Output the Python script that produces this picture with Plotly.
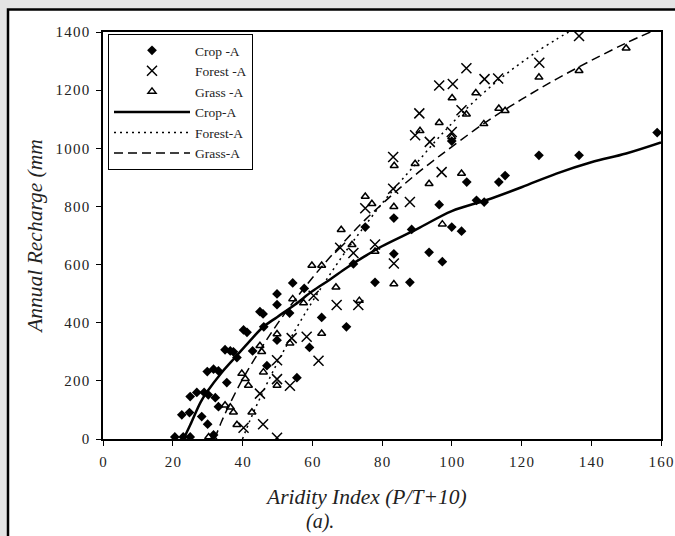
import plotly.graph_objects as go

# ---- observed points ----
crop_x = [20.6, 23.0, 25.0, 22.6, 24.8, 28.3, 30.0, 31.7, 25.0, 26.9, 29.0, 30.2, 32.2, 33.1,
          29.9, 31.7, 33.1, 35.5, 35.0, 36.5, 37.4, 38.4, 40.3, 41.3, 42.9, 45.0, 45.9, 46.1,
          47.0, 49.9, 49.9, 49.9, 53.5, 54.4, 55.6, 57.7, 59.2, 62.7, 69.8, 71.8, 75.2, 78.0,
          83.4, 83.4, 88.0, 88.5, 93.5, 96.4, 97.3, 100.0, 100.0, 102.8, 104.3, 107.1, 109.3,
          113.5, 115.3, 125.0, 136.5, 158.9]
crop_y = [7, 7, 7, 83, 91, 77, 51, 14, 146, 160, 160, 152, 142, 111,
          232, 240, 234, 194, 307, 303, 300, 280, 375, 367, 303, 438, 430, 386,
          252, 499, 462, 340, 433, 537, 211, 518, 315, 418, 386, 602, 729, 539,
          760, 637, 539, 721, 642, 806, 610, 729, 1025, 715, 884, 821, 815,
          884, 906, 976, 976, 1054]

forest_x = [40.3, 45.9, 49.9, 45.0, 49.9, 53.6, 49.9, 54.1, 58.4, 60.4, 61.8, 67.0, 73.2, 68.0,
            71.8, 78.0, 83.4, 75.2, 83.2, 88.0, 83.2, 97.1, 89.5, 93.7, 90.7, 100.0, 96.4, 100.3,
            102.8, 104.2, 109.4, 113.3, 125.1, 136.5]
forest_y = [39, 51, 4, 156, 206, 183, 271, 347, 352, 493, 269, 461, 461, 658,
            640, 669, 604, 794, 861, 815, 970, 918, 1045, 1022, 1120, 1056, 1216, 1221,
            1131, 1275, 1238, 1240, 1294, 1386]

grass_x = [30.3, 31.7, 38.4, 42.7, 37.4, 36.5, 35.0, 39.8, 40.8, 41.7, 46.0, 49.9, 45.0, 45.5,
           49.9, 53.6, 62.7, 54.4, 57.5, 59.9, 62.7, 66.8, 73.5, 68.3, 71.4, 78.0, 75.2, 77.1,
           83.4, 83.4, 83.5, 89.5, 93.5, 97.3, 90.9, 96.4, 102.8, 100.1, 104.2, 109.2, 106.9,
           100.0, 113.5, 115.3, 125.0, 136.5, 150.0]
grass_y = [7, 2, 49, 92, 92, 109, 116, 225, 207, 184, 230, 184, 321, 300,
           361, 329, 363, 482, 468, 597, 597, 522, 476, 720, 668, 645, 834, 809,
           799, 533, 940, 947, 878, 739, 1060, 1088, 913, 1173, 1117, 1084, 1190,
           1039, 1137, 1129, 1244, 1267, 1344]

# ---- fitted curves ----
crop_fit_x = [23.1, 25, 28, 30, 34, 38, 42, 46, 50, 55, 60, 65, 70, 75, 80, 90, 100, 110, 120,
              130, 140, 150, 160]
crop_fit_y = [0, 48, 127, 165, 228, 282, 336, 386, 420, 462, 508, 548, 590, 628, 663, 722, 784,
              822, 866, 913, 952, 982, 1020]

forest_fit_x = [40, 42, 45, 50, 55, 60, 65, 70, 75, 80, 85, 90, 95, 100, 105, 110, 115, 120,
                125, 130, 133.5]
forest_fit_y = [0, 60, 140, 262, 372, 472, 565, 652, 732, 810, 882, 950, 1020, 1085, 1145, 1200,
                1250, 1295, 1337, 1375, 1400]

grass_fit_x = [32, 34, 36, 40, 45, 50, 55, 60, 65, 70, 75, 80, 85, 90, 95, 100, 110, 120, 130,
               140, 150, 157]
grass_fit_y = [0, 60, 112, 205, 305, 396, 478, 554, 624, 690, 752, 808, 862, 913, 960, 1005,
               1092, 1168, 1238, 1302, 1362, 1400]

x_ticks = [0, 20, 40, 60, 80, 100, 120, 140, 160]
y_ticks = [0, 200, 400, 600, 800, 1000, 1200, 1400]

x_title = "Aridity Index (P/T+10)"
panel_label = "(a)."
y_title = "Annual Recharge (mm"

FONT = "Liberation Serif, Times New Roman, serif"
HS = "\u200a"  # hair space: mimics the wide tracking of the original tick labels


def spaced(v):
    return HS.join(str(v))


fig = go.Figure()
fig.add_trace(go.Scatter(x=crop_x, y=crop_y, mode="markers", name="Crop -A",
                         marker=dict(symbol="diamond", size=7.5, color="black")))
fig.add_trace(go.Scatter(x=forest_x, y=forest_y, mode="markers", name="Forest -A",
                         marker=dict(symbol="x-thin-open", size=10, color="black",
                                     line=dict(width=1.5, color="black"))))
fig.add_trace(go.Scatter(x=grass_x, y=grass_y, mode="markers", name="Grass -A",
                         marker=dict(symbol="triangle-up-open", size=7, color="black",
                                     line=dict(width=1.5, color="black"))))
fig.add_trace(go.Scatter(x=crop_fit_x, y=crop_fit_y, mode="lines", name="Crop-A",
                         line=dict(color="black", width=2.5, shape="spline")))
fig.add_trace(go.Scatter(x=forest_fit_x, y=forest_fit_y, mode="lines", name="Forest-A",
                         line=dict(color="black", width=1.5, dash="2px,4px", shape="spline")))
fig.add_trace(go.Scatter(x=grass_fit_x, y=grass_fit_y, mode="lines", name="Grass-A",
                         line=dict(color="black", width=1.5, dash="9px,5px", shape="spline")))

L, R, T, B = 103, 14, 32, 97
W, H = 675, 536
pw, ph = W - L - R, H - T - B


def px2x(p):
    return (p - L) / pw


def py2y(p):
    return (H - B - p) / ph


fig.update_layout(
    width=W, height=H,
    margin=dict(l=L, r=R, t=T, b=B, pad=0, autoexpand=False),
    paper_bgcolor="#e4e4e4",
    plot_bgcolor="white",
    font=dict(family=FONT, size=14, color="#222"),
    showlegend=True,
    legend=dict(x=px2x(108), y=py2y(34), xanchor="left", yanchor="top",
                bgcolor="white", bordercolor="black", borderwidth=1,
                font=dict(family=FONT, size=13.5, color="#222"),
                itemwidth=76, tracegroupgap=0),
    shapes=[dict(type="rect", xref="paper", yref="paper", layer="below",
                 x0=px2x(8), x1=px2x(720), y0=py2y(580), y1=py2y(9.5),
                 fillcolor="white", line=dict(color="black", width=2.5))],
    annotations=[
        dict(text="<i>%s</i>" % x_title, xref="paper", yref="paper", x=px2x(366), y=py2y(497),
             xanchor="center", yanchor="middle", showarrow=False,
             font=dict(family=FONT, size=21.5, color="#222")),
        dict(text="<i>%s</i>" % panel_label, xref="paper", yref="paper", x=px2x(320), y=py2y(521),
             xanchor="center", yanchor="middle", showarrow=False,
             font=dict(family=FONT, size=20, color="#222")),
    ],
)
fig.update_xaxes(range=[0, 160], tickvals=x_ticks, ticktext=[spaced(v) for v in x_ticks],
                 ticks="outside", ticklen=5, ticklabelstandoff=3, automargin=False,
                 tickcolor="black", showline=True, linecolor="black", linewidth=1.5,
                 mirror=True, showgrid=False, zeroline=False,
                 tickfont=dict(family=FONT, size=15, color="#222"))
fig.update_yaxes(range=[0, 1400], tickvals=y_ticks, ticktext=[spaced(v) for v in y_ticks],
                 ticks="outside", ticklen=5, automargin=False,
                 tickcolor="black", showline=True, linecolor="black", linewidth=1.5,
                 mirror=True, showgrid=False, zeroline=False, ticklabelstandoff=4,
                 tickfont=dict(family=FONT, size=15, color="#222"),
                 title=dict(text="<i>%s</i>" % y_title,
                            font=dict(family=FONT, size=21.5, color="#222"), standoff=7))

fig.write_html("out.html")
